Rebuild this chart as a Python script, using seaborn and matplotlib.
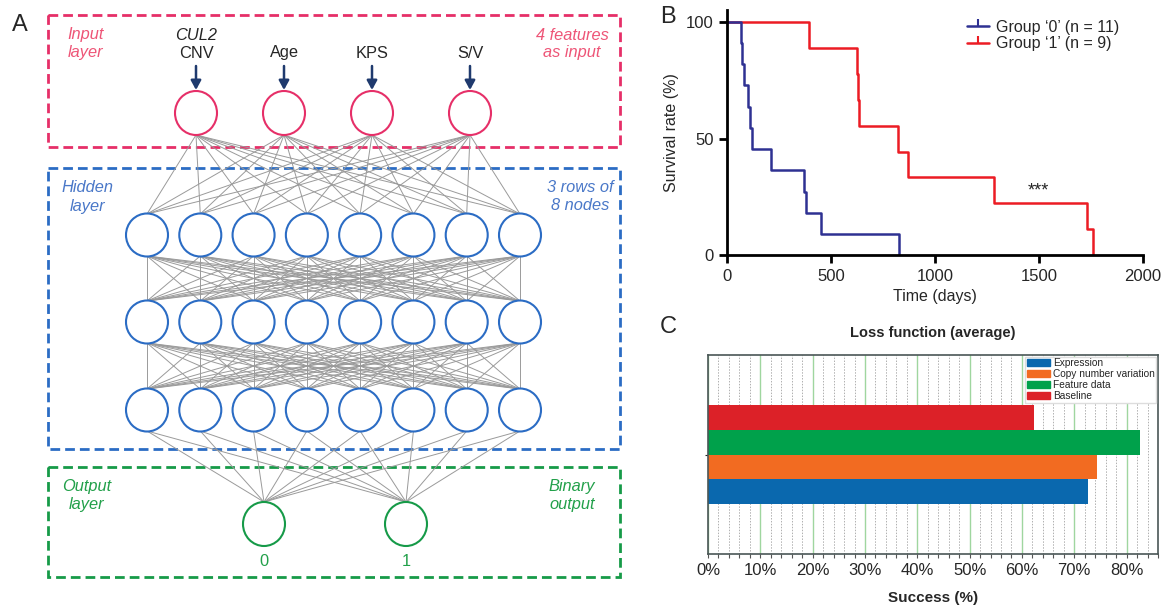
import numpy as np
import pandas as pd
import matplotlib
matplotlib.use('Agg')
import matplotlib.pyplot as plt
from matplotlib.patches import Ellipse, Rectangle, Patch
from matplotlib.lines import Line2D
from matplotlib.ticker import MultipleLocator, FuncFormatter
import seaborn as sns

# ---- data ----
input_labels = ['CNV', 'Age', 'KPS', 'S/V']
hidden_rows = 3
hidden_per_row = 8
output_labels = ['0', '1']

# Kaplan-Meier event times (days)
group0_times = [65, 73, 81, 100, 110, 118, 213, 368, 379, 453, 827]
group1_times = [392, 626, 631, 635, 823, 871, 1282, 1731, 1758]
group_names = ["Group \u20180\u2019 (n = 11)", "Group \u20181\u2019 (n = 9)"]

# panel C: success rate per data type
models = ['Expression', 'Copy number variation', 'Feature data', 'Baseline']
success = [0.727, 0.744, 0.825, 0.623]

sns.set_style('ticks')
plt.rcParams['font.family'] = ['Liberation Sans', 'DejaVu Sans']

W, H = 1163, 607
fig = plt.figure(figsize=(W / 100, H / 100), dpi=100)

def fx(px):
    return px / W

def fy(py):
    return 1 - py / H

# ================= panel A : network diagram =================
axA = fig.add_axes([0, 0, 640 / W, 1])
axA.set_xlim(0, 640)
axA.set_ylim(H, 0)
axA.axis('off')

red, red_t = '#e62f68', '#ee5577'
blue, blue_t = '#2b6cc4', '#4a78c8'
green, green_t = '#169a48', '#22a04a'
navy = '#1f3a6e'
fs = 11.8

for (y0, y1, c) in [(15, 147, red), (168, 449, blue), (467, 577, green)]:
    axA.add_patch(Rectangle((48, y0), 572, y1 - y0, fill=False, ec=c, lw=2.0,
                            ls=(0, (3.5, 1.8)), zorder=1))

in_x = [196, 284, 372, 470]
in_y = 113
hid_x = list(np.linspace(147, 520, hidden_per_row))
hid_y = [235, 322, 410]
out_x = [264, 406]
out_y = 524
r = 21

# connections
def connect(xs_a, ya, xs_b, yb):
    for xa in xs_a:
        for xb in xs_b:
            axA.plot([xa, xb], [ya, yb], color='#9a9a9a', lw=0.7, zorder=2)

connect(in_x, in_y + 22, hid_x, hid_y[0] - r)
for k in range(hidden_rows - 1):
    connect(hid_x, hid_y[k] + r, hid_x, hid_y[k + 1] - r)
connect(hid_x, hid_y[-1] + r, out_x, out_y - 22)

for x in in_x:
    axA.add_patch(Ellipse((x, in_y), 42, 44, fc='white', ec=red, lw=1.5, zorder=3))
for y in hid_y:
    for x in hid_x:
        axA.add_patch(Ellipse((x, y), 42, 43, fc='white', ec=blue, lw=1.5, zorder=3))
for x, lab in zip(out_x, output_labels):
    axA.add_patch(Ellipse((x, out_y), 42, 44, fc='white', ec=green, lw=1.5, zorder=3))
    axA.text(x, 566.5, lab, color=green_t, fontsize=fs, ha='center', va='baseline')

for x, lab in zip(in_x, input_labels):
    axA.annotate('', xy=(x, 90), xytext=(x, 66),
                 arrowprops=dict(arrowstyle='-|>,head_width=0.3,head_length=0.55',
                                 color=navy, lw=1.8, shrinkA=0, shrinkB=0))
    axA.text(x, 57.5, lab, fontsize=fs, ha='center', va='baseline')
axA.text(in_x[0], 39.5, 'CUL2', fontsize=fs, style='italic', ha='center', va='baseline')

for (x, y, txt, c) in [(86, 34, 'Input', red_t), (86, 52, 'layer', red_t),
                       (572, 34, '4 features', red_t), (572, 52, 'as input', red_t),
                       (88, 186, 'Hidden', blue_t), (88, 205, 'layer', blue_t),
                       (580, 186, '3 rows of', blue_t), (580, 205, '8 nodes', blue_t),
                       (87, 485, 'Output', green_t), (87, 504, 'layer', green_t),
                       (572, 485, 'Binary', green_t), (572, 504, 'output', green_t)]:
    axA.text(x, y + 5.5, txt, color=c, fontsize=fs, style='italic', ha='center',
             va='baseline')

axA.text(20, 25, 'A', fontsize=17, ha='center', va='center')

# ================= panel B : survival curves =================
def km_table(times, name):
    n = len(times)
    t = [0] + sorted(times)
    s = [100.0] + [100.0 * (1 - k / n) for k in range(1, n + 1)]
    return pd.DataFrame({'time': t, 'surv': s, 'group': name})

km = pd.concat([km_table(group0_times, group_names[0]),
                km_table(group1_times, group_names[1])], ignore_index=True)
pal_b = {group_names[0]: '#2e3192', group_names[1]: '#ec1c24'}

axB = fig.add_axes([fx(727), fy(255.4), fx(1143) - fx(727), fy(10) - fy(255.4)])
# group 0 drawn last so it sits on top at the start
sns.lineplot(data=km, x='time', y='surv', hue='group', palette=pal_b,
             hue_order=group_names[::-1], drawstyle='steps-post', estimator=None,
             sort=False, lw=1.8, legend=False, ax=axB)
axB.set_xlim(0, 2000)
axB.set_ylim(0, 105)
axB.set_xticks([0, 500, 1000, 1500, 2000])
axB.set_yticks([0, 50, 100])
sns.despine(ax=axB)
for sp in ['left', 'bottom']:
    axB.spines[sp].set_linewidth(2)
    axB.spines[sp].set_color('black')
axB.tick_params(width=2, length=6, labelsize=12, direction='out', color='black')
axB.set_xlabel('Time (days)', fontsize=11.5)
axB.set_ylabel('Survival rate (%)', fontsize=11.5, labelpad=5)
axB.text(1495, 27.5, '***', fontsize=13, ha='center', va='center')
handles_b = [Line2D([], [], color=pal_b[g], lw=1.8, marker=2, markersize=5,
                    markeredgewidth=1.5) for g in group_names]
axB.legend(handles_b, group_names, loc='upper right', bbox_to_anchor=(0.965, 1.0),
           frameon=False, fontsize=11.5, handlelength=1.4, handletextpad=0.4,
           labelspacing=0.1, borderaxespad=0.2)
fig.text(fx(660), fy(17), 'B', fontsize=17, ha='left', va='center')

# ================= panel C : bar chart =================
bars = pd.DataFrame({'cat': ['all'] * len(models), 'model': models, 'value': success})
pal_c = {'Expression': '#0a68ae', 'Copy number variation': '#f26b21',
         'Feature data': '#00a14b', 'Baseline': '#dc2128'}
hue_order = ['Baseline', 'Feature data', 'Copy number variation', 'Expression']

axC = fig.add_axes([fx(708), fy(554), fx(1158) - fx(708), fy(355) - fy(554)])
sns.barplot(data=bars, x='value', y='cat', hue='model', hue_order=hue_order,
            palette=pal_c, orient='h', saturation=1, width=0.8, legend=False,
            edgecolor='none', ax=axC)
axC.set_ylim(0.8, -0.8)
axC.set_xlim(0, 0.86)
axC.xaxis.set_major_locator(MultipleLocator(0.1))
axC.xaxis.set_minor_locator(MultipleLocator(0.02))
axC.xaxis.set_major_formatter(FuncFormatter(lambda v, p: f'{v * 100:.0f}%'))
axC.set_axisbelow(True)
axC.grid(axis='x', which='major', color='#9fd69f', lw=1.0, ls='-')
axC.grid(axis='x', which='minor', color='#b0b0b0', lw=0.7, ls=(0, (1.5, 1.5)))
axC.set_yticks([0])
axC.set_yticklabels([''])
axC.tick_params(axis='y', length=2, width=0.8)
axC.tick_params(axis='x', which='both', length=3, width=0.8, labelsize=12,
                color='#555555')
for sp in axC.spines.values():
    sp.set_color('#4a5656')
    sp.set_linewidth(1.2)
axC.set_ylabel('')
axC.set_xlabel('Success (%)', fontsize=11, fontweight='bold', labelpad=9)
axC.set_title('Loss function (average)', fontsize=10.5, fontweight='bold', pad=13)
handles_c = [Patch(color=pal_c[m]) for m in models]
axC.legend(handles_c, models, loc='upper right', fontsize=7.3, handlelength=2.3,
           handleheight=0.55, handletextpad=0.3, labelspacing=0.1, borderpad=0.15,
           borderaxespad=0.15, fancybox=False, framealpha=1, edgecolor='#dddddd')
fig.text(fx(660), fy(327), 'C', fontsize=17, ha='left', va='center')

fig.savefig('out.png', dpi=100)
